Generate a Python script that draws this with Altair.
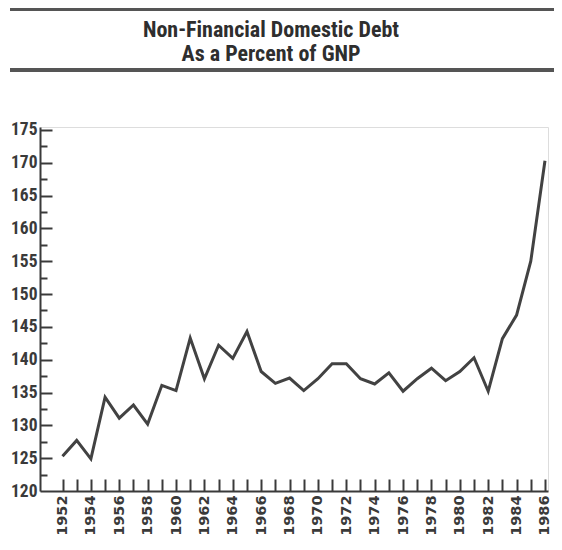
import altair as alt
import pandas as pd

# ---- data ----
years = list(range(1952, 1987))
debt_pct_gnp = [125.3, 127.7, 124.9, 134.3, 131.1, 133.1, 130.2, 136.1, 135.3, 143.3,
                137.1, 142.2, 140.2, 144.3, 138.2, 136.4, 137.2, 135.3, 137.1, 139.4,
                139.4, 137.1, 136.3, 138.0, 135.2, 137.1, 138.7, 136.8, 138.2, 140.3,
                135.2, 143.2, 146.8, 155.0, 170.3]
year_labels = list(range(1952, 1987, 2))
y_labels = list(range(120, 176, 5))
y_major_ticks = list(range(125, 176, 5))
y_minor_ticks = [122.5 + 5 * i for i in range(11)]
title_lines = ["Non-Financial Domestic Debt", "As a Percent of GNP"]

df = pd.DataFrame({"year": years, "debt": debt_pct_gnp})

W, H = 508, 364
PAD = {"left": 32, "top": 119, "right": 6, "bottom": 45}
INK = "#3a3a3a"
NARROW = "Roboto Condensed, Noto Sans Condensed, Liberation Sans Narrow, Arial Narrow, Liberation Sans, sans-serif"
WIDE = "DejaVu Sans, sans-serif"

xs = alt.Scale(domain=[1950.414, 1986.214], nice=False, zero=False)
ys = alt.Scale(domain=[120, 175.45], nice=False, zero=False)

base = alt.Chart(df)

line = base.mark_line(color="#424242", strokeWidth=3).encode(
    x=alt.X("year:Q", scale=xs, axis=alt.Axis(
        orient="bottom", values=year_labels, format="d", labelAngle=-90,
        labelFont=WIDE, labelFontSize=14.5, labelFontWeight="bold", labelColor=INK,
        labelPadding=4, ticks=False, tickSize=0, domainColor=INK, domainWidth=2,
        grid=False, title=None, labelOverlap=False)),
    y=alt.Y("debt:Q", scale=ys, axis=alt.Axis(
        orient="left", values=y_labels, format="d",
        labelFont=NARROW, labelFontSize=17.5, labelFontWeight="bold", labelColor=INK,
        labelPadding=3, ticks=False, tickSize=0, domainColor=INK, domainWidth=2,
        grid=False, title=None, labelOverlap=False)),
)

major = base.mark_line(strokeOpacity=0).encode(
    x=alt.X("year:Q", scale=xs, axis=alt.Axis(
        orient="top", offset=-H, values=years, labels=False, domain=False,
        ticks=True, tickSize=12, tickWidth=2, tickColor=INK, grid=False, title=None)),
    y=alt.Y("debt:Q", scale=ys, axis=alt.Axis(
        orient="right", offset=-W, values=y_major_ticks, labels=False, domain=False,
        ticks=True, tickSize=12, tickWidth=2, tickColor=INK, grid=False, title=None)),
)

minor = base.mark_line(strokeOpacity=0).encode(
    x=alt.X("year:Q", scale=xs, axis=None),
    y=alt.Y("debt:Q", scale=ys, axis=alt.Axis(
        orient="right", offset=-W, values=y_minor_ticks, labels=False, domain=False,
        ticks=True, tickSize=7, tickWidth=2, tickColor=INK, grid=False, title=None)),
)

one = alt.Chart(pd.DataFrame({"k": [0]}))
rule_top = one.mark_rule(color="#555555", strokeWidth=3).encode(
    x=alt.value(-30), x2=alt.value(W + PAD["right"]), y=alt.value(-117.5))
rule_bottom = one.mark_rule(color="#555555", strokeWidth=4).encode(
    x=alt.value(-30), x2=alt.value(W + PAD["right"]), y=alt.value(-57))

title_style = dict(font=NARROW, fontSize=22, fontWeight="bold", color="#2e2e2e",
                   align="center", baseline="alphabetic")
title1 = one.mark_text(**title_style).encode(
    x=alt.value(231), y=alt.value(-90), text=alt.value(title_lines[0]))
title2 = one.mark_text(**title_style).encode(
    x=alt.value(231), y=alt.value(-66), text=alt.value(title_lines[1]))

chart = alt.layer(line, major, minor, rule_top, rule_bottom, title1, title2).resolve_axis(
    x="independent", y="independent"
).properties(
    width=W, height=H,
    autosize=alt.AutoSizeParams(type="none"),
    padding=PAD,
).configure_view(stroke=None).configure(background="white")

chart.save("out.html", embed_options={"renderer": "svg", "actions": False})
